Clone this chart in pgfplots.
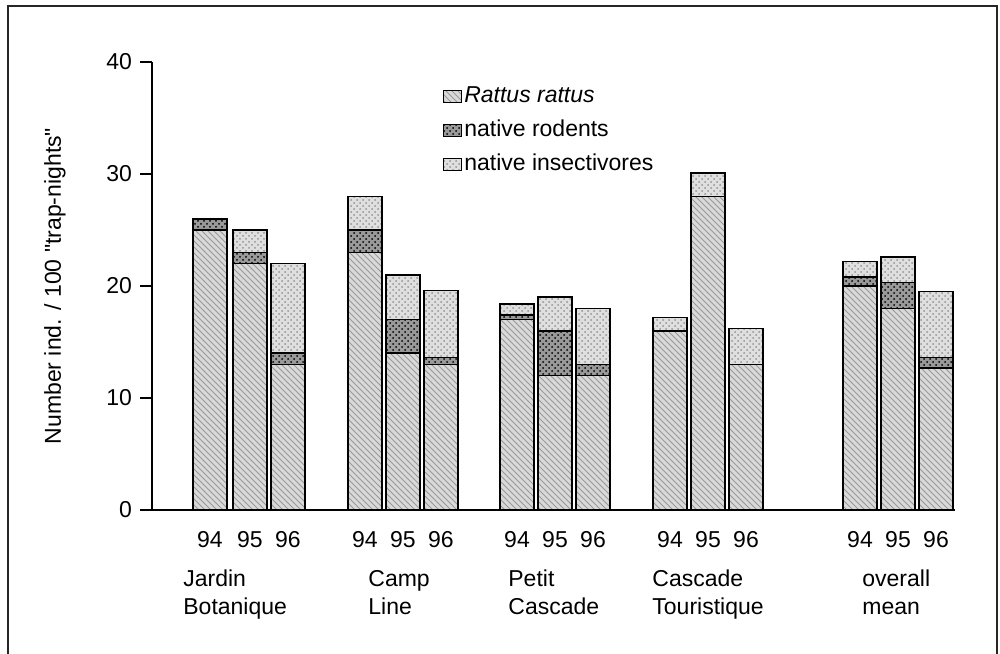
\documentclass[border=0pt]{standalone}
\usepackage{fontspec}
\setmainfont{Liberation Sans}[Ligatures=TeXOff]
\usepackage{pgfplots}
\usepackage{pgfplotstable}
\pgfplotsset{compat=1.18}
\usetikzlibrary{patterns}

% x = horizontal position of each bar (group / year), values in ind. per 100 trap-nights
\pgfplotstableread{
x    rattus rodents insect
210  25     1       0
250  22     1       2
288  13     1       8
365  23     2       3
403  14     3       4
441  13     0.6     6
517  17     0.4     1
555  12     4       3
593  12     1       5
670  16     0       1.2
708  28     0       2.1
746  13     0       3.2
860  20     0.8     1.4
898  18     2.3     2.3
936  12.7   0.9     5.9
}\datatable

\pgfplotsset{
  mylegend/.style={legend image code/.code={\draw[##1,line width=0.6pt] (0pt,-3pt) rectangle (9pt,3pt);}},
}

\begin{document}
\fontsize{11.5}{14}\selectfont
\begin{tikzpicture}
\useasboundingbox (-76pt,-71.5pt) rectangle (424pt,255pt);
\draw[line width=1pt,black!85] (-72pt,-73pt) -- (-72pt,252pt) -- (422.5pt,252pt) -- (422.5pt,-73pt);
\begin{axis}[
  at={(0pt,0pt)}, anchor=south west,
  scale only axis, width=401.5pt, height=224pt,
  xmin=152, xmax=955, ymin=0, ymax=40,
  ybar stacked, bar width=17pt,
  axis x line=bottom, axis y line=left,
  axis line style={-, line width=1pt},
  clip=false,
  xtick={210,250,288,365,403,441,517,555,593,670,708,746,860,898,936},
  xticklabels={94,95,96,94,95,96,94,95,96,94,95,96,94,95,96},
  x tick style={draw=none},
  xticklabel style={yshift=-0.5pt},
  ytick={0,10,20,30,40},
  y tick style={line width=1pt, black},
  tick align=outside, major tick length=6pt,
  /pgf/number format/assume math mode=true,
  tick label style={font=\fontsize{11.5}{13}\selectfont},
  every axis y label/.style={at={(rel axis cs:0,0.5)}, xshift=-48.5pt, rotate=90, anchor=center},
  ylabel={Number ind. / 100 "trap-nights"},
  legend style={draw=none, fill=none, at={(rel axis cs:0.362,0.95)}, anchor=north west,
    row sep=5pt, inner sep=0pt, font=\fontsize{11.5}{13.5}\selectfont,
    nodes={inner sep=1pt, anchor=west}},
  legend cell align=left,
]
\addplot[draw=black, line width=0.8pt, fill=gray!30,
  postaction={pattern=north west lines, pattern color=gray!80}, mylegend]
  table[x=x, y=rattus] {\datatable};
\addlegendentry{\textit{Rattus rattus}}
\addplot[draw=black, line width=0.8pt, fill=gray!80,
  postaction={pattern=crosshatch dots, pattern color=black}, mylegend]
  table[x=x, y=rodents] {\datatable};
\addlegendentry{native rodents}
\addplot[draw=black, line width=0.8pt, fill=gray!25,
  postaction={pattern=crosshatch dots, pattern color=gray!85}, mylegend]
  table[x=x, y=insect] {\datatable};
\addlegendentry{native insectivores}

\node[anchor=north west, align=left, inner sep=0pt] at (axis cs:183,-5.35) {Jardin\\Botanique};
\node[anchor=north west, align=left, inner sep=0pt] at (axis cs:368,-5.35) {Camp\\Line};
\node[anchor=north west, align=left, inner sep=0pt] at (axis cs:508,-5.35) {Petit\\Cascade};
\node[anchor=north west, align=left, inner sep=0pt] at (axis cs:652,-5.35) {Cascade\\Touristique};
\node[anchor=north west, align=left, inner sep=0pt] at (axis cs:862,-5.35) {overall\\mean};
\end{axis}
\end{tikzpicture}
\end{document}
